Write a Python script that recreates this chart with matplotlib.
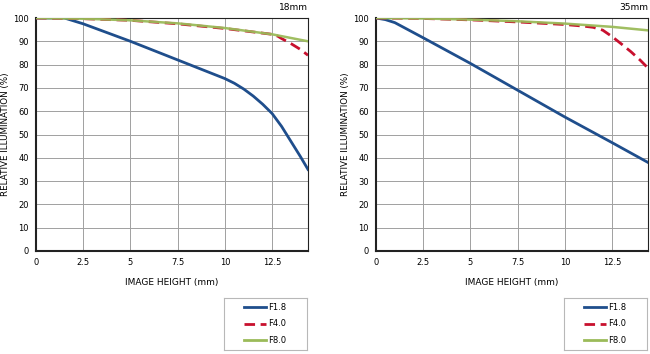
import matplotlib.pyplot as plt
from matplotlib.lines import Line2D

plt.rcParams.update({
    "font.family": "DejaVu Sans",
    "font.size": 6,
})

C_F18 = "#1f4e8c"
C_F40 = "#c8102e"
C_F80 = "#9bbb59"

# ── 18mm ──
x18_f18 = [0, 1.5, 2.5, 5, 7.5, 10, 10.5, 11, 11.5, 12, 12.5, 13, 13.5, 14, 14.4]
y18_f18 = [100, 100, 97.5, 90, 82, 74, 72, 69.5, 66.5, 63, 59, 53.5, 47, 40.5, 35]
x18_f40 = [0, 2.5, 5, 7.5, 10, 12.5, 12.8, 13, 13.5, 14, 14.4]
y18_f40 = [100, 99.7, 99, 97.5, 95.5, 93, 92.2, 91.2, 89, 86.5, 84]
x18_f80 = [0, 2.5, 5, 7.5, 10, 12.5, 14.4]
y18_f80 = [100, 99.7, 99, 97.7, 95.7, 93, 90]

# ── 35mm ──
x35_f18 = [0, 0.5, 1, 2.5, 5, 7.5, 10, 12.5, 14.4]
y35_f18 = [100, 99.3, 98, 91.5, 80.5, 69, 57.5, 46.5, 38]
x35_f40 = [0, 2.5, 5, 7.5, 10, 11, 11.5, 12, 12.5, 13, 13.5, 14, 14.4]
y35_f40 = [100, 99.8, 99.2, 98.3, 97.2, 96.5, 96, 94.8, 92, 88.8, 85.5, 81.8, 78.5]
x35_f80 = [0, 2.5, 5, 7.5, 10, 12.5, 14.4]
y35_f80 = [100, 99.8, 99.3, 98.6, 97.6, 96.2, 94.7]

panels = [
    ("18mm", x18_f18, y18_f18, x18_f40, y18_f40, x18_f80, y18_f80),
    ("35mm", x35_f18, y35_f18, x35_f40, y35_f40, x35_f80, y35_f80),
]

W, H = 650, 354
fig = plt.figure(figsize=(6.5, 3.54), dpi=100)
lefts = [36, 376]
w = 272 / W
b = 1 - 251 / H
h = 233 / H
DASH = (3.8, 2.0)

for left, (title, xa, ya, xb, yb, xc, yc) in zip(lefts, panels):
    ax = fig.add_axes([left / W, b, w, h])
    ax.plot(xa, ya, color=C_F18, lw=2, zorder=3)
    ax.plot(xb, yb, color=C_F40, lw=2, dashes=DASH, zorder=3)
    ax.plot(xc, yc, color=C_F80, lw=1.8, alpha=0.95, zorder=4)
    ax.set_xlim(0, 14.4)
    ax.set_ylim(0, 100)
    ax.set_xticks([0, 2.5, 5, 7.5, 10, 12.5])
    ax.set_xticklabels(["0", "2.5", "5", "7.5", "10", "12.5"])
    ax.set_yticks(range(0, 101, 10))
    ax.grid(True, color="#a0a0a0", lw=0.7)
    ax.tick_params(length=0, pad=5, labelsize=6)
    for s in ax.spines.values():
        s.set_color("#222222")
        s.set_linewidth(0.8)
    ax.spines["left"].set_linewidth(1.5)
    ax.spines["bottom"].set_linewidth(1.5)
    ax.set_xlabel("IMAGE HEIGHT (mm)", fontsize=6.5, labelpad=8)
    ax.set_ylabel("RELATIVE ILLUMINATION (%)", fontsize=6.3, labelpad=2.5)
    ax.set_title(title, loc="right", fontsize=6.5, pad=6)

    # legend box
    lax = fig.add_axes([(left + 188) / W, 1 - 350 / H, 83 / W, 52 / H])
    lax.set_xticks([])
    lax.set_yticks([])
    for s in lax.spines.values():
        s.set_color("#b8b8b8")
        s.set_linewidth(0.8)
    handles = [Line2D([], [], color=C_F18, lw=2),
               Line2D([], [], color=C_F40, lw=2, dashes=DASH),
               Line2D([], [], color=C_F80, lw=2)]
    lax.legend(handles, ["F1.8", "F4.0", "F8.0"], loc="center left",
               bbox_to_anchor=(0.24, 0.5), frameon=False, fontsize=6,
               handlelength=2.6, handletextpad=0.3, labelspacing=0.95,
               borderpad=0, borderaxespad=0)

fig.savefig("out.png", dpi=100)
